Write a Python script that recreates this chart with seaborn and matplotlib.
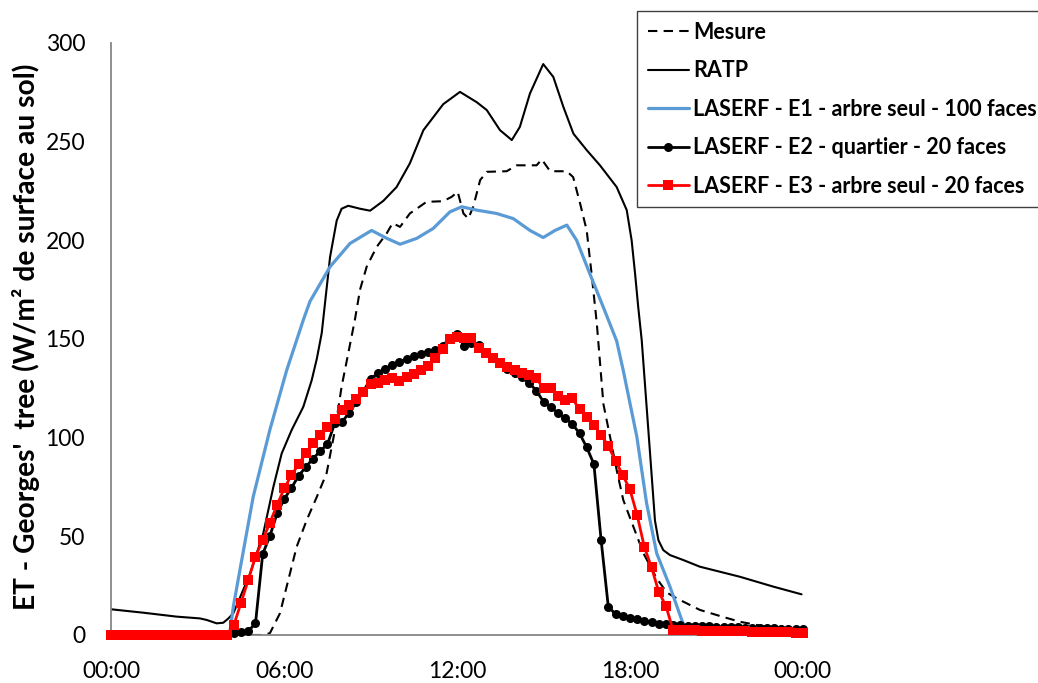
import numpy as np
import pandas as pd
import matplotlib
matplotlib.use("Agg")
import matplotlib.pyplot as plt
import seaborn as sns

# ---------------- data (hours since midnight, W/m2) ----------------
series_names = ["Mesure", "RATP", "LASERF - E1 - arbre seul - 100 faces",
                "LASERF - E2 - quartier - 20 faces", "LASERF - E3 - arbre seul - 20 faces"]

mesure_t = [0, 4.5, 5.27, 5.50, 5.85, 6.14, 6.43, 6.78, 7.13, 7.47, 7.76, 7.99, 8.22, 8.45,
            8.63, 8.86, 9.21, 9.56, 9.76, 10.02, 10.36, 10.94, 11.51, 11.81, 12.02, 12.22,
            12.39, 12.56, 12.80, 13.03, 13.72, 14.07, 14.76, 14.94, 15.23, 15.81, 16.03,
            16.27, 16.50, 16.67, 16.85, 17.08, 17.31, 17.54, 17.77, 18.12, 18.47, 18.93,
            19.28, 19.62, 20.43, 21.13, 21.82, 22.97, 24.0]
mesure_v = [0, 0, 0, 0.9, 11, 27.9, 44.7, 58.3, 70, 82, 103.9, 125.8, 142.7, 159.6,
            175, 186.6, 196.7, 203.6, 208.7, 206.8, 213.6, 219.5, 219.8, 222, 224.6, 213.6,
            211, 217, 230.5, 234.7, 235, 238, 238, 241, 235, 235, 232,
            218.7, 205, 183, 158, 117, 100.5, 83.6, 68.4, 54.9, 41.4, 28.7,
            21.5, 18.6, 12.7, 9.6, 6.7, 3.5, 1.7]

ratp_t = [0, 1.10, 2.26, 3.07, 3.31, 3.65, 3.88, 4.06, 4.23, 4.81, 5.27, 5.62, 5.91, 6.26,
          6.66, 6.95, 7.13, 7.30, 7.59, 7.82, 7.99, 8.22, 8.63, 8.98, 9.44, 9.90, 10.36,
          10.83, 11.52, 12.10, 12.68, 13.03, 13.49, 13.90, 14.18, 14.53, 14.99, 15.34,
          15.69, 16.04, 16.50, 16.96, 17.54, 17.89, 18.06, 18.18, 18.29, 18.41, 18.70,
          18.87, 18.99, 19.16, 19.39, 19.85, 20.43, 21.82, 22.98, 23.96]
ratp_v = [13, 11.3, 9.3, 8.4, 7.6, 5.9, 6.2, 8.4, 11, 31, 51.5, 75, 92, 104,
          115.6, 129, 140, 153, 191.6, 210, 216, 217.5, 216, 215, 220, 227, 239,
          255.8, 269, 275.2, 270, 266, 255.8, 250.8, 257.5, 274.4, 289.3, 282.8,
          267.6, 254, 245.7, 238, 227, 215.3, 200, 183, 166, 149.4, 92,
          58, 48, 43, 40.5, 38, 34.6, 29.5, 24.5, 20.6]

e1_t = [0, 4.10, 4.23, 4.46, 4.92, 5.50, 6.08, 6.66, 6.89, 7.59, 8.28, 9.03, 9.56, 10.02,
        10.60, 11.17, 11.75, 12.16, 12.68, 13.37, 13.95, 14.53, 14.99, 15.40, 15.81,
        16.15, 16.61, 17.08, 17.54, 17.77, 18.24, 18.58, 18.93, 19.39, 19.80, 20.0, 24.0]
e1_v = [0, 0, 14.3, 33, 70, 104, 134, 159.6, 169, 186.6, 198.4, 205, 201, 198,
        201, 206, 214.4, 217, 215.3, 213.6, 211, 205, 201.4, 205, 207.7,
        200, 183, 166, 149, 134, 100.5, 66.7, 41.4, 24.5, 7.6, 1, 0]

quarter_hours = np.arange(97) * 0.25
e2_v = [0] * 17 + [
    0.9, 1.7, 2.0, 5.9, 41, 50.2, 61.6, 68.9, 74.6, 80.7, 85.2, 89.4, 93.2, 96.7, 107.2,
    107.9, 112.5, 118, 123.7, 129.7, 132.7, 134.7, 136.8, 138.4, 139.8, 141.2, 142.4,
    143.4, 144.4, 146.4, 150.7, 152.4, 146.4, 147.8, 146.9, 143.5, 140.7, 138, 135,
    132.6, 130.5, 127.8, 123.8, 118.2, 115.3, 112.6, 109.8, 106.9, 102.2, 95.1, 86.6,
    48.1, 14.3, 10.6, 9.6, 8.8, 7.9, 7.1, 6.4, 5.7, 5.4, 5.1, 4.9, 4.7, 4.6, 4.4, 4.3,
    4.1, 4.0, 3.9, 3.8, 3.7, 3.6, 3.5, 3.4, 3.3, 3.2, 3.1, 3.0, 3.0]
e3_v = [0] * 17 + [
    5.1, 16.4, 27.9, 39.7, 48.1, 56.9, 65.9, 74.3, 81, 86.6, 92, 97.1, 101.3, 105.2,
    109.3, 114, 116.5, 119.6, 123.3, 127, 127.8, 129.2, 130, 128.8, 130.9, 132, 134.2,
    136.3, 140.2, 144.7, 149.8, 150.8, 150.3, 150.3, 145.2, 142.7, 140.2, 138, 135.9,
    134.2, 132.6, 131.7, 130, 125, 125, 121, 119, 119.9, 114.3, 110.6, 106.4, 101.3,
    95.7, 88.3, 81, 73.8, 60.8, 44.7, 34.3, 21.9, 14.7, 2.5, 2.4, 2.3, 2.3, 2.2, 2.1,
    2.0, 2.0, 1.9, 1.8, 1.8, 1.7, 1.6, 1.5, 1.5, 1.4, 1.3, 1.2, 1.2]

xtick_hours = [0, 3, 6, 9, 12, 15, 18, 21, 24]
xtick_labels = ["00:00", "", "06:00", "", "12:00", "", "18:00", "", "00:00"]
ytick_values = [0, 50, 100, 150, 200, 250, 300]
ylabel = "ET - Georges'  tree (W/m\u00b2 de surface au sol)"

# ---------------- style ----------------
sns.set_theme(style="white")
plt.rcParams['font.family'] = ['Lato', 'DejaVu Sans']

fig = plt.figure(figsize=(10.38, 6.83), dpi=100)
ax = fig.add_axes([0.1074, 0.0703, 0.6687, 0.8668])

sns.lineplot(x=mesure_t, y=mesure_v, ax=ax, color="black", linewidth=1.5,
             linestyle=(0, (4.5, 3)), label=series_names[0], zorder=2.1)
sns.lineplot(x=ratp_t, y=ratp_v, ax=ax, color="black", linewidth=1.5,
             label=series_names[1], zorder=2.2)
sns.lineplot(x=e1_t, y=e1_v, ax=ax, color="#5B9BD5", linewidth=2.3,
             label=series_names[2], zorder=2.3)
sns.lineplot(x=quarter_hours, y=e2_v, ax=ax, color="black", linewidth=2.0,
             marker="o", markersize=6.5, markeredgecolor="black", markeredgewidth=0,
             label=series_names[3], zorder=2.9, clip_on=False)
sns.lineplot(x=quarter_hours, y=e3_v, ax=ax, color="#FF0000", linewidth=2.0,
             marker="s", markersize=7, markeredgecolor="#FF0000", markeredgewidth=0,
             label=series_names[4], zorder=3.0, clip_on=False)

ax.set_xlim(0, 24.1)
ax.set_ylim(0, 300)
ax.set_xticks(xtick_hours)
ax.set_xticklabels(xtick_labels)
ax.set_yticks(ytick_values)
ax.set_yticklabels([str(v) for v in ytick_values])
ax.tick_params(axis="both", direction="in", length=6, width=0.9, color="#333333",
               labelsize=16.5, labelcolor="black", pad=19)
ax.set_xlabel("")
ax.set_ylabel("")

for side in ["top", "right"]:
    ax.spines[side].set_visible(False)
for side in ["left", "bottom"]:
    ax.spines[side].set_color("#868686")
    ax.spines[side].set_linewidth(1.3)
ax.grid(False)

# y-axis title, sized so its length matches the reference (~548 px)
ylab = fig.text(26 / 1038, 1 - 337 / 683, ylabel, rotation=90, ha="center", va="center",
                fontsize=16, fontweight="bold", color="black")
fig.canvas.draw()
ext = ylab.get_window_extent(renderer=fig.canvas.get_renderer())
ylab.set_fontsize(16 * 548.0 / ext.height)

handles, labels = ax.get_legend_handles_labels()
leg = ax.legend(handles, labels, loc="upper left",
                bbox_to_anchor=(637 / 1038, 1 - 11 / 683), bbox_transform=fig.transFigure,
                frameon=True, fancybox=False, framealpha=1, edgecolor="#404040",
                prop={"weight": "bold", "size": 15.5}, handlelength=1.9, handletextpad=0.2,
                labelspacing=0.81, borderpad=0.5, borderaxespad=0, numpoints=1)
leg.get_frame().set_linewidth(1.0)
for t in leg.get_texts():
    t.set_color("black")

fig.savefig("out.png", dpi=100)
